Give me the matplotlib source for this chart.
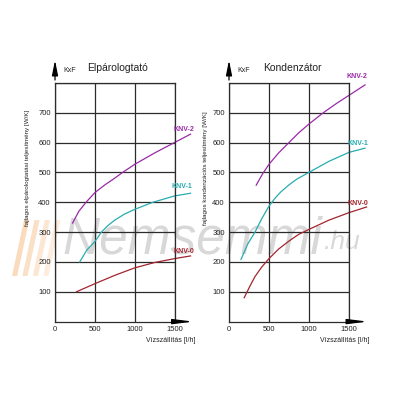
import matplotlib
matplotlib.use("Agg")
import matplotlib.pyplot as plt
from matplotlib.patches import Polygon

plt.rcParams["font.family"] = ["Liberation Sans", "DejaVu Sans"]

# data (water flow l/h -> W/K)
evap_knv2_x = [220, 300, 400, 500, 620, 730, 850, 1000, 1250, 1500, 1700]
evap_knv2_y = [330, 370, 403, 432, 457, 477, 500, 527, 565, 600, 628]
evap_knv1_x = [310, 400, 500, 583, 660, 750, 870, 1000, 1230, 1500, 1700]
evap_knv1_y = [200, 240, 268, 300, 321, 340, 360, 376, 400, 421, 430]
evap_knv0_x = [270, 500, 750, 1000, 1250, 1500, 1700]
evap_knv0_y = [100, 127, 155, 180, 198, 211, 220]

cond_knv2_x = [340, 420, 500, 620, 750, 870, 1000, 1180, 1350, 1500, 1700]
cond_knv2_y = [457, 495, 527, 565, 600, 632, 662, 700, 732, 758, 793]
cond_knv1_x = [150, 230, 325, 410, 500, 580, 650, 750, 846, 1000, 1250, 1500, 1700]
cond_knv1_y = [208, 258, 300, 345, 387, 415, 435, 458, 477, 500, 537, 567, 581]
cond_knv0_x = [190, 260, 325, 410, 500, 620, 750, 870, 1000, 1250, 1500, 1720]
cond_knv0_y = [80, 118, 151, 183, 211, 243, 270, 292, 309, 340, 365, 384]

labels = ["KNV-2", "KNV-1", "KNV-0"]
colors = ["#9a2aa8", "#27acb0", "#a3242e"]
x_ticks = [0, 500, 1000, 1500]
y_ticks = [100, 200, 300, 400, 500, 600, 700]

panels = [
    dict(pos=[0.1375, 0.196, 0.299, 0.597], title="Elpárologtató",
         ylabel="fajlagos elpárologtatási teljesítmény [W/K]",
         series=[(evap_knv2_x, evap_knv2_y), (evap_knv1_x, evap_knv1_y), (evap_knv0_x, evap_knv0_y)],
         label_pos=[(1615, 645), (1590, 452), (1615, 236)], ylab_x=-340),
    dict(pos=[0.5725, 0.196, 0.300, 0.597], title="Kondenzátor",
         ylabel="fajlagos kondenzációs teljesítmény [W/K]",
         series=[(cond_knv2_x, cond_knv2_y), (cond_knv1_x, cond_knv1_y), (cond_knv0_x, cond_knv0_y)],
         label_pos=[(1596, 820), (1615, 598), (1610, 394)], ylab_x=-300),
]

fig = plt.figure(figsize=(4, 4), dpi=100)
fig.patch.set_facecolor("white")

# faint watermark
fig.text(0.155, 0.40, "Nemsemmi", fontsize=37, style="italic", color="#d8d8d8",
         zorder=-2, ha="left", va="center")
fig.text(0.81, 0.395, ".hu", fontsize=19, style="italic", color="#d8d8d8",
         zorder=-2, ha="left", va="center")
for i, a in enumerate([0.45, 0.38, 0.3, 0.22]):
    x0 = 0.03 + i * 0.026
    fig.patches.append(Polygon([(x0, 0.31), (x0 + 0.013, 0.31), (x0 + 0.043, 0.45), (x0 + 0.030, 0.45)],
                               closed=True, transform=fig.transFigure, facecolor="#f7b070",
                               alpha=a, edgecolor="none", zorder=-3))

line_c = "#2b2b2b"
for p in panels:
    ax = fig.add_axes(p["pos"])
    ax.set_facecolor("none")
    ax.set_xlim(0, 1500)
    ax.set_ylim(0, 800)
    ax.set_xticks(x_ticks)
    ax.set_yticks(y_ticks)
    ax.set_yticks(list(range(100, 900, 100)), minor=True)
    ax.grid(True, which="both", color=line_c, linewidth=0.9)
    ax.tick_params(length=0, labelsize=5.5, colors="#222222", pad=3)
    ax.tick_params(which="minor", length=0)
    for s in ax.spines.values():
        s.set_color(line_c)
        s.set_linewidth(0.9)

    for (xs, ys), c, lab, lp in zip(p["series"], colors, labels, p["label_pos"]):
        ax.plot(xs, ys, color=c, linewidth=0.9, clip_on=False)
        ax.text(lp[0], lp[1], lab, color=c, fontsize=5, fontweight="bold",
                ha="center", va="center", clip_on=False)

    # axis arrows
    ax.annotate("", xy=(0, 885), xytext=(0, 800),
                arrowprops=dict(arrowstyle="-|>,head_length=0.9,head_width=0.18",
                                color="black", lw=0.9), annotation_clip=False)
    ax.annotate("", xy=(1770, 0), xytext=(1500, 0),
                arrowprops=dict(arrowstyle="-|>,head_length=1.2,head_width=0.15",
                                color="black", lw=0.9), annotation_clip=False)
    ax.text(110, 842, "KxF", fontsize=5, color="#222222", ha="left", va="center")
    ax.text(790, 850, p["title"], fontsize=7.5, color="#222222",
            ha="center", va="center")
    ax.text(1760, -50, "Vízszállítás [l/h]", fontsize=5, color="#222222",
            ha="right", va="top")
    ax.text(p["ylab_x"], 515, p["ylabel"], fontsize=4.5, color="#222222",
            rotation=90, ha="center", va="center")

fig.savefig("out.png", dpi=100)
